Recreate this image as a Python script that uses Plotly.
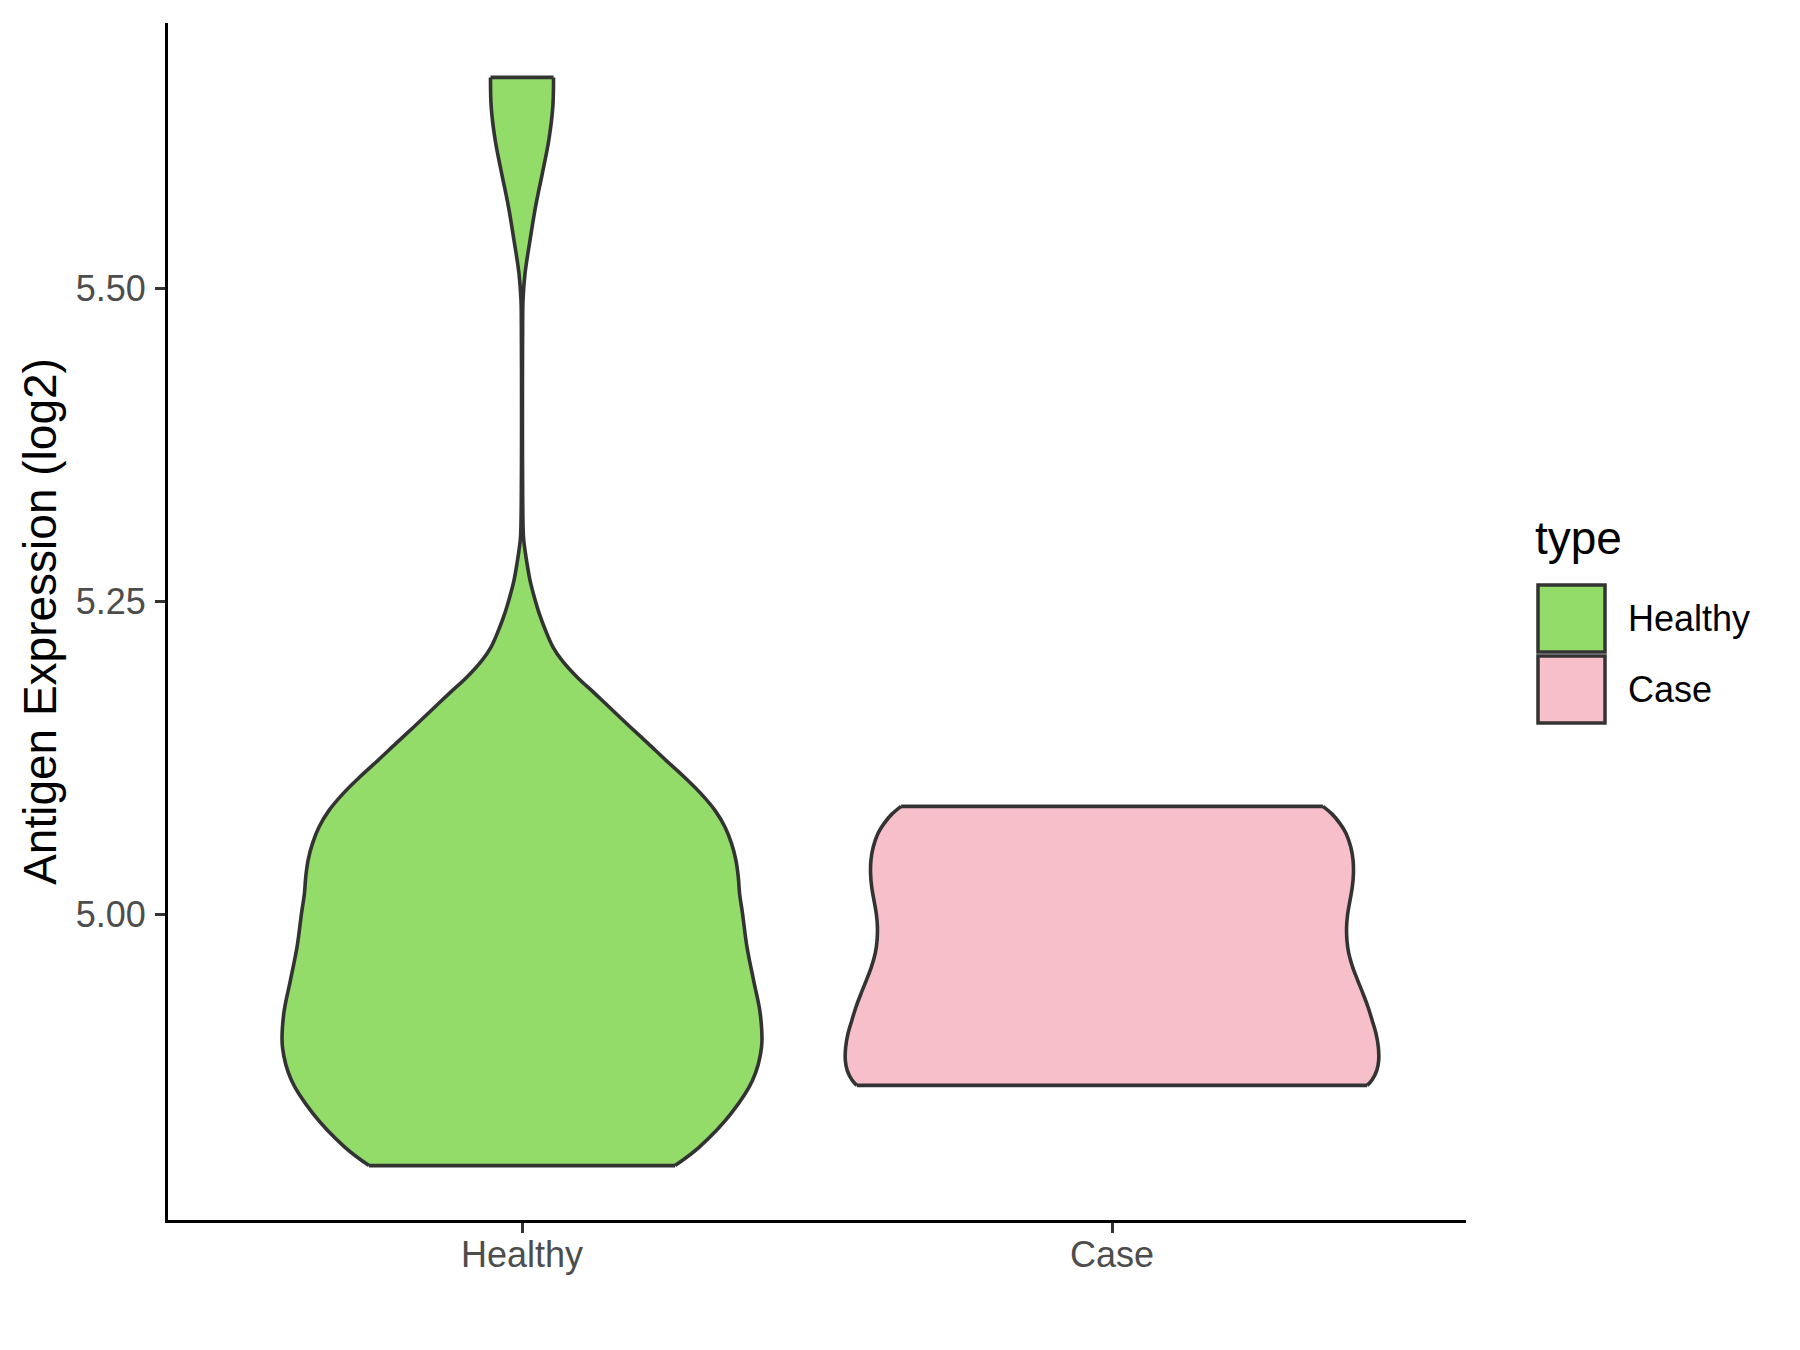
import plotly.graph_objects as go

# ---------------- data ----------------
categories = ["Healthy", "Case"]
fill_colors = ["#93DC6A", "#F7BFCA"]

# density profile of each violin: y level (log2 expression) and half-width (x units)
healthy_y = [4.7991, 4.8139, 4.8406, 4.8672, 4.8938, 4.9205, 4.9471, 4.9737, 5.0004, 5.0164,
             5.0296, 5.0430, 5.0563, 5.0696, 5.0829, 5.0963, 5.1096, 5.1229, 5.1362, 5.1495,
             5.1629, 5.1762, 5.1895, 5.2028, 5.2134, 5.2268, 5.2401, 5.2534, 5.2667, 5.2801,
             5.2907, 5.3013, 5.3300, 5.3800, 5.4300, 5.4700, 5.4904, 5.5118, 5.5384, 5.5650,
             5.5917, 5.6183, 5.6450, 5.6685]
healthy_w = [0.2593, 0.3005, 0.3542, 0.3908, 0.4060, 0.4038, 0.3925, 0.3813, 0.3738, 0.3688,
             0.3666, 0.3626, 0.3552, 0.3440, 0.3271, 0.3033, 0.2750, 0.2440, 0.2140, 0.1835,
             0.1535, 0.1237, 0.0932, 0.0678, 0.0525, 0.0398, 0.0293, 0.0208, 0.0136, 0.0085,
             0.0051, 0.0025, 0.0012, 0.0008, 0.0008, 0.0011, 0.0017, 0.0051, 0.0136, 0.0229,
             0.0344, 0.0454, 0.0522, 0.0534]

case_y = [4.8632, 4.8672, 4.8752, 4.8832, 4.8938, 4.9045, 4.9151, 4.9258, 4.9365, 4.9471,
          4.9577, 4.9684, 4.9791, 4.9897, 5.0004, 5.0110, 5.0217, 5.0324, 5.0430, 5.0536,
          5.0643, 5.0723, 5.0803, 5.0861]
case_w = [0.4326, 0.4404, 0.4488, 0.4520, 0.4514, 0.4475, 0.4410, 0.4339, 0.4254, 0.4164,
          0.4079, 0.4014, 0.3982, 0.3976, 0.3995, 0.4034, 0.4073, 0.4092, 0.4086, 0.4047,
          0.3969, 0.3865, 0.3723, 0.3574]

y_ticks = [5.00, 5.25, 5.50]
y_tick_labels = ["5.00", "5.25", "5.50"]

profiles = [(healthy_y, healthy_w), (case_y, case_w)]

# ---------------- figure ----------------
W, H = 1800, 1350
OFF = 8  # page body offset of the browser
ML, MR, MT, MB = 168 - OFF, 334 + OFF, 23 - OFF, 130 + OFF
OUTLINE = "#333333"
FONT = "Liberation Sans, Arial, sans-serif"
LW = 3.6

fig = go.Figure()

for i, (cat, col, (ys, ws)) in enumerate(zip(categories, fill_colors, profiles)):
    c = i + 1
    right_x = [c + w for w in ws]
    left_x = [c - w for w in ws]
    fig.add_trace(go.Scatter(x=right_x, y=ys, mode="lines",
                             line=dict(color=OUTLINE, width=LW, shape="spline", smoothing=1),
                             showlegend=False, hoverinfo="skip"))
    fig.add_trace(go.Scatter(x=left_x, y=ys, mode="lines", fill="tonextx", fillcolor=col,
                             line=dict(color=OUTLINE, width=LW, shape="spline", smoothing=1),
                             name=cat, showlegend=False, hoverinfo="skip"))
    # flat top and bottom edges
    for k in (0, -1):
        fig.add_trace(go.Scatter(x=[left_x[k], right_x[k]], y=[ys[k], ys[k]], mode="lines",
                                 line=dict(color=OUTLINE, width=LW),
                                 showlegend=False, hoverinfo="skip"))

all_y = healthy_y + case_y
ymin, ymax = min(all_y), max(all_y)
pad = 0.05 * (ymax - ymin)

fig.update_layout(
    width=W, height=H,
    margin=dict(l=ML, r=MR, t=MT, b=MB, autoexpand=False),
    paper_bgcolor="white", plot_bgcolor="white",
    font=dict(family=FONT),
    showlegend=False,
    xaxis=dict(range=[0.4, 2.6], tickmode="array", tickvals=[1, 2], ticktext=categories,
               showgrid=False, zeroline=False, showline=True, linecolor="black", linewidth=3,
               ticks="outside", ticklen=10, tickwidth=2.6, tickcolor=OUTLINE,
               ticklabelstandoff=-9,
               tickfont=dict(size=36, color="#4D4D4D", family=FONT)),
    yaxis=dict(range=[ymin - pad, ymax + pad], tickmode="array", tickvals=y_ticks,
               ticktext=y_tick_labels,
               showgrid=False, zeroline=False, showline=True, linecolor="black", linewidth=3,
               ticks="outside", ticklen=10, tickwidth=2.6, tickcolor=OUTLINE,
               ticklabelstandoff=2,
               tickfont=dict(size=36, color="#4D4D4D", family=FONT),
               title=dict(text="Antigen Expression (log2)", standoff=5,
                          font=dict(size=46, color="black", family=FONT))),
)

# ---------------- manual legend (ggplot-style keys) ----------------
pw = W - ML - MR
ph = H - MT - MB


def px(xs):
    return (xs - OFF - ML) / pw


def py(ys_):
    return (H - MB - (ys_ - OFF)) / ph


fig.add_annotation(xref="paper", yref="paper", x=px(1533), y=py(538), text="type",
                   showarrow=False, xanchor="left", yanchor="middle",
                   font=dict(size=46, color="black", family=FONT))
key_top = 585
key_h = 67
key_gap = 4
for i, (cat, col) in enumerate(zip(categories, fill_colors)):
    t = key_top + i * (key_h + key_gap)
    fig.add_shape(type="rect", xref="paper", yref="paper",
                  x0=px(1538), x1=px(1605), y0=py(t + key_h), y1=py(t),
                  fillcolor=col, line=dict(color=OUTLINE, width=3.5))
    fig.add_annotation(xref="paper", yref="paper", x=px(1626), y=py(t + key_h / 2),
                       text=cat, showarrow=False, xanchor="left", yanchor="middle",
                       font=dict(size=36, color="black", family=FONT))

fig.write_html("out.html")
